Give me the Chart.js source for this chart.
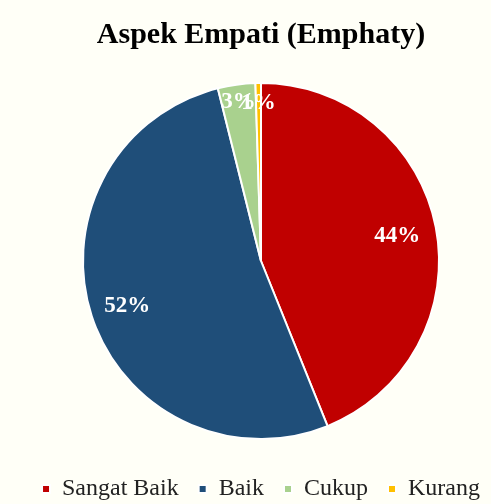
<!DOCTYPE html>
<html>
<head>
<meta charset="utf-8">
<script src="https://cdn.jsdelivr.net/npm/chart.js@4"></script>
<style>
  html, body { margin: 0; padding: 0; background: #fffff7; overflow: hidden; }
  #wrap { width: 491px; height: 504px; overflow: hidden; }
</style>
</head>
<body>
<div id="wrap"><canvas id="empatiChart" width="522" height="504"></canvas></div>
<script>
// chart data
const categories = ['Sangat Baik', 'Baik', 'Cukup', 'Kurang'];
const values = [43.9, 52.2, 3.4, 0.5];
const sliceColors = ['#c00000', '#1f4e79', '#a9d18e', '#ffc000'];
const labelRadius = [0.78, 0.79, 0.915, 0.90];

// draw percent labels inside slices
const percentLabels = {
    id: 'percentLabels',
    afterDatasetsDraw(chart) {
        const ctx = chart.ctx;
        const meta = chart.getDatasetMeta(0);
        const total = values.reduce((a, b) => a + b, 0);
        ctx.save();
        ctx.font = 'bold 23px "Liberation Serif", serif';
        ctx.fillStyle = '#ffffff';
        ctx.textAlign = 'center';
        ctx.textBaseline = 'middle';
        meta.data.forEach((arc, i) => {
            const mid = (arc.startAngle + arc.endAngle) / 2;
            const r = arc.outerRadius * labelRadius[i];
            const x = arc.x + Math.cos(mid) * r;
            const y = arc.y + Math.sin(mid) * r + 2;
            ctx.fillText(Math.round(values[i] / total * 100) + '%', x, y);
        });
        ctx.restore();
    }
};

document.addEventListener('DOMContentLoaded', function() {
    // canvas is a bit wider than the window so the pie sits right of centre
    const canvas = document.getElementById('empatiChart');
    new Chart(canvas.getContext('2d'), {
        type: 'pie',
        data: {
            labels: categories,
            datasets: [{
                data: values,
                backgroundColor: sliceColors,
                borderColor: '#ffffff',
                borderWidth: 2,
                radius: 178
            }]
        },
        options: {
            responsive: false,
            animation: false,
            layout: { padding: { left: 0, right: 0, top: 17, bottom: -7 } },
            plugins: {
                title: {
                    display: true,
                    text: 'Aspek Empati (Emphaty)',
                    color: '#000000',
                    font: { family: '"Liberation Serif", serif', size: 30, weight: 'bold' },
                    padding: { top: 0, bottom: 12 }
                },
                legend: {
                    position: 'bottom',
                    labels: {
                        color: '#222222',
                        font: { family: '"Liberation Serif", serif', size: 24 },
                        boxWidth: 8,
                        boxHeight: 8,
                        padding: 20
                    }
                },
                tooltip: { enabled: false }
            }
        },
        plugins: [percentLabels]
    });
});
</script>
</body>
</html>
